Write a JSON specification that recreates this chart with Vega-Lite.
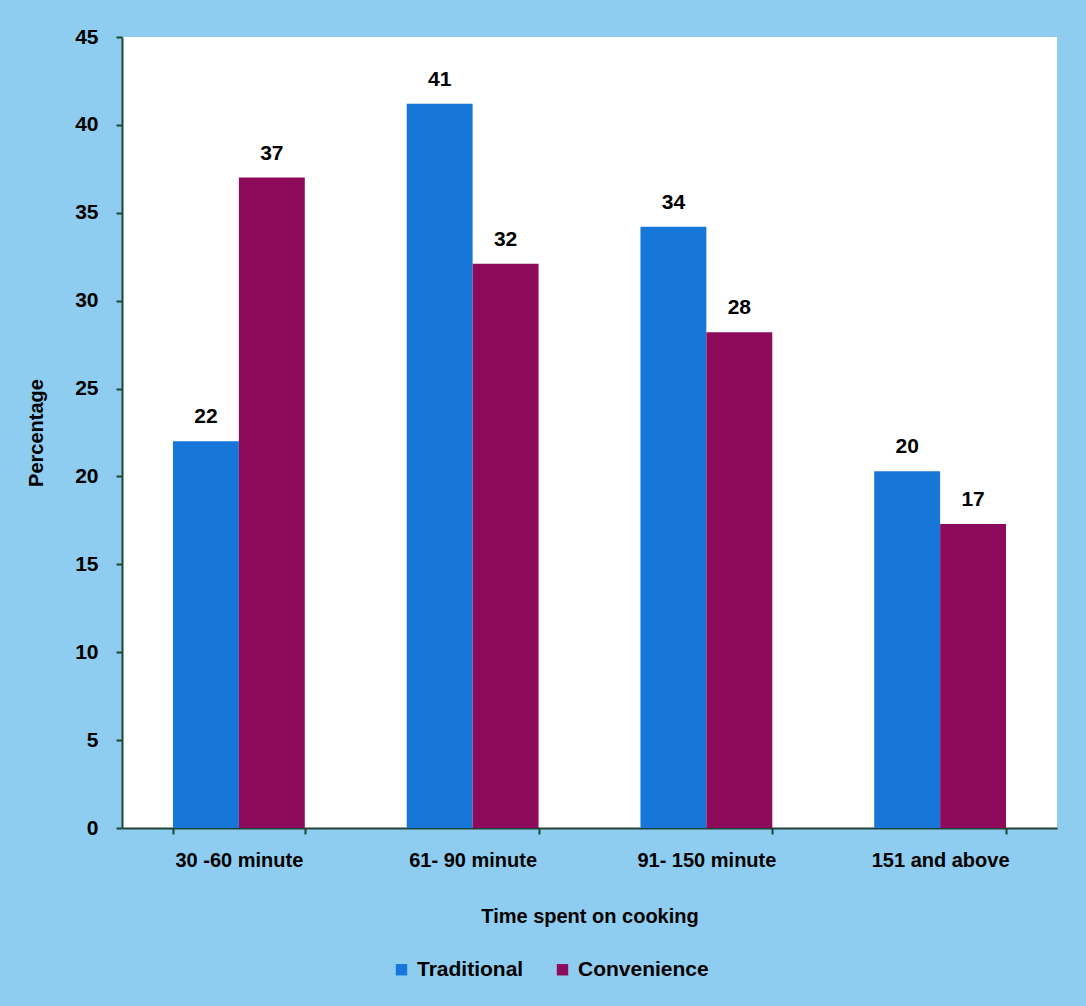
{
  "$schema": "https://vega.github.io/schema/vega-lite/v6.json",
  "autosize": {"type": "none"},
  "width": 935,
  "height": 791,
  "padding": {"left": 122, "top": 37, "right": 29, "bottom": 178},
  "background": "#8ecdf0",
  "view": {"fill": "white", "stroke": null},
  "config": {
    "font": "Liberation Sans",
    "axis": {"labelFont": "Liberation Sans", "titleFont": "Liberation Sans", "labelFontWeight": "bold", "titleFontWeight": "bold", "labelColor": "black", "titleColor": "black", "domainColor": "#1d4535", "tickColor": "#1d4535", "domainWidth": 2, "tickWidth": 2, "tickSize": 6, "grid": false},
    "legend": {"labelFont": "Liberation Sans", "labelFontWeight": "bold", "labelColor": "black"}
  },
  "data": {
    "values": [
      {"time": "30 -60 minute", "type": "Traditional", "value": 22},
      {"time": "30 -60 minute", "type": "Convenience", "value": 37},
      {"time": "61- 90 minute", "type": "Traditional", "value": 41.2},
      {"time": "61- 90 minute", "type": "Convenience", "value": 32.1},
      {"time": "91- 150 minute", "type": "Traditional", "value": 34.2},
      {"time": "91- 150 minute", "type": "Convenience", "value": 28.2},
      {"time": "151 and above", "type": "Traditional", "value": 20.3},
      {"time": "151 and above", "type": "Convenience", "value": 17.3}
    ]
  },
  "encoding": {
    "x": {
      "field": "time", "type": "nominal", "sort": null,
      "scale": {"paddingInner": 0.436, "paddingOuter": 0.218},
      "axis": {"title": "Time spent on cooking", "labelAngle": 0, "labelFontSize": 20, "titleFontSize": 20, "labelPadding": 16, "titlePadding": 36, "tickBand": "extent"}
    },
    "xOffset": {"field": "type", "type": "nominal", "sort": ["Traditional", "Convenience"], "scale": {"paddingInner": 0, "paddingOuter": 0}},
    "y": {
      "field": "value", "type": "quantitative",
      "scale": {"domain": [0, 45]},
      "axis": {"title": "Percentage", "values": [0,5,10,15,20,25,30,35,40,45], "labelFontSize": 21, "titleFontSize": 20, "labelPadding": 18, "titlePadding": 28}
    }
  },
  "layer": [
    {
      "mark": {"type": "bar"},
      "encoding": {
        "color": {
          "field": "type", "type": "nominal", "sort": ["Traditional", "Convenience"],
          "scale": {"domain": ["Traditional", "Convenience"], "range": ["#1677d8", "#8e0b5b"]},
          "legend": {"title": null, "orient": "none", "legendX": 269, "legendY": 922, "direction": "horizontal", "symbolType": "square", "symbolSize": 130, "symbolOpacity": 1, "labelFontSize": 21, "columnPadding": 28, "labelOffset": 5}
        }
      }
    },
    {
      "mark": {"type": "text", "baseline": "bottom", "dy": -14, "fontSize": 21, "fontWeight": "bold", "font": "Liberation Sans", "color": "black"},
      "encoding": {
        "text": {"field": "value", "type": "quantitative", "format": ".0f"}
      }
    }
  ]
}
